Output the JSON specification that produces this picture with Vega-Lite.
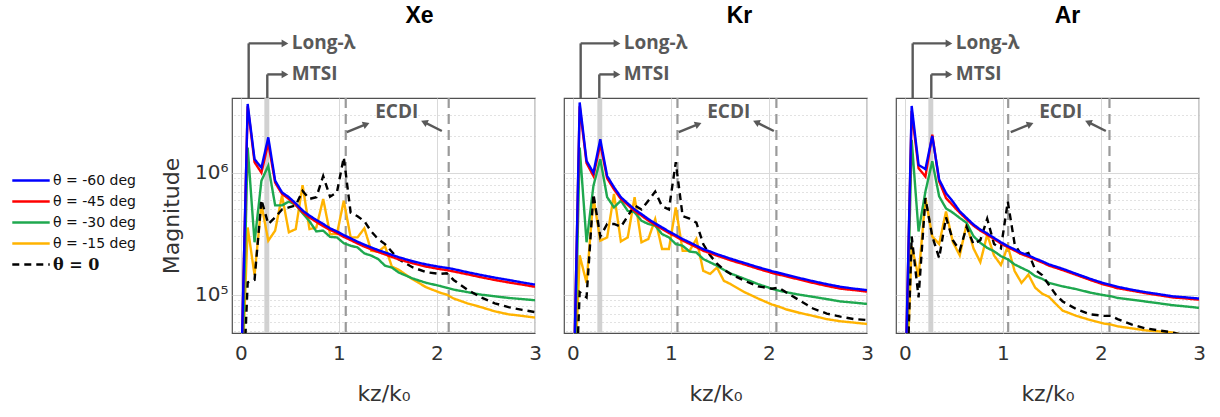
{
  "$schema": "https://vega.github.io/schema/vega-lite/v6.json",
  "padding": {"left": 11, "top": 4, "right": 5, "bottom": 2},
  "background": "white",
  "spacing": 29,
  "bounds": "flush",
  "config": {
    "view": {"stroke": "#505050", "strokeWidth": 1.2},
    "axis": {"labelFont": "DejaVu Sans", "labelFontSize": 20, "labelColor": "#333", "titleFont": "DejaVu Sans", "titleFontSize": 22, "titleFontWeight": "normal", "titleColor": "#333", "domain": false, "ticks": false, "gridColor": "#d9d9d9", "gridWidth": 1},
    "legend": {"orient": "none", "legendX": -221, "legendY": 73, "symbolType": "stroke", "symbolSize": 1400, "symbolStrokeWidth": 2.4, "labelFont": "DejaVu Sans", "labelFontSize": 14, "labelColor": "#111", "clipHeight": 19, "rowPadding": 2, "labelOffset": 2},
    "title": {"font": "Liberation Sans", "fontSize": 23, "fontWeight": "bold", "color": "#000", "anchor": "middle", "offset": 6}
  },
  "datasets": {
    "curves": [
      {"p":"Xe","x":0,"b":17000,"r":17000,"g":8000,"o":11000,"k":6000},
      {"p":"Xe","x":0.07,"b":3660000,"r":3500000,"g":1610000,"o":356000,"k":126000},
      {"p":"Xe","x":0.14,"b":1290000,"r":1220000,"g":269000,"o":145000,"k":132000},
      {"p":"Xe","x":0.21,"b":1100000,"r":1000000,"g":860000,"o":550000,"k":600000},
      {"p":"Xe","x":0.28,"b":1950000,"r":1750000,"g":1140000,"o":277000,"k":380000},
      {"p":"Xe","x":0.35,"b":860000,"r":830000,"g":540000,"o":335000,"k":430000},
      {"p":"Xe","x":0.42,"b":690000,"r":670000,"g":540000,"o":650000,"k":500000},
      {"p":"Xe","x":0.49,"b":630000,"r":610000,"g":580000,"o":325000,"k":520000},
      {"p":"Xe","x":0.56,"b":560000,"r":545000,"g":545000,"o":345000,"k":540000},
      {"p":"Xe","x":0.63,"b":490000,"r":475000,"g":465000,"o":790000,"k":710000},
      {"p":"Xe","x":0.7,"b":445000,"r":430000,"g":400000,"o":345000,"k":610000},
      {"p":"Xe","x":0.77,"b":410000,"r":395000,"g":330000,"o":355000,"k":630000},
      {"p":"Xe","x":0.84,"b":380000,"r":365000,"g":335000,"o":610000,"k":940000},
      {"p":"Xe","x":0.91,"b":350000,"r":340000,"g":298000,"o":314000,"k":635000},
      {"p":"Xe","x":0.98,"b":330000,"r":320000,"g":295000,"o":314000,"k":690000},
      {"p":"Xe","x":1.05,"b":308000,"r":298000,"g":264000,"o":590000,"k":1340000},
      {"p":"Xe","x":1.12,"b":290000,"r":280000,"g":252000,"o":295000,"k":470000},
      {"p":"Xe","x":1.19,"b":272000,"r":263000,"g":244000,"o":295000,"k":440000},
      {"p":"Xe","x":1.26,"b":257000,"r":248000,"g":218000,"o":350000,"k":400000},
      {"p":"Xe","x":1.33,"b":244000,"r":235000,"g":209000,"o":229000,"k":330000},
      {"p":"Xe","x":1.4,"b":232000,"r":224000,"g":196000,"o":225000,"k":286000},
      {"p":"Xe","x":1.47,"b":222000,"r":214000,"g":173000,"o":250000,"k":260000},
      {"p":"Xe","x":1.54,"b":212000,"r":204000,"g":167000,"o":170000,"k":225000},
      {"p":"Xe","x":1.61,"b":203000,"r":195000,"g":152000,"o":160000,"k":195000},
      {"p":"Xe","x":1.75,"b":188000,"r":181000,"g":136000,"o":134000,"k":168000},
      {"p":"Xe","x":1.89,"b":177000,"r":170000,"g":125000,"o":115000,"k":153000},
      {"p":"Xe","x":2.03,"b":169000,"r":162000,"g":118000,"o":104000,"k":148000},
      {"p":"Xe","x":2.1,"b":166000,"r":159000,"g":114000,"o":100000,"k":150000},
      {"p":"Xe","x":2.17,"b":162000,"r":155000,"g":110000,"o":93000,"k":132000},
      {"p":"Xe","x":2.31,"b":153000,"r":147000,"g":105000,"o":85000,"k":110000},
      {"p":"Xe","x":2.45,"b":145000,"r":139000,"g":100000,"o":79000,"k":95000},
      {"p":"Xe","x":2.59,"b":138000,"r":132000,"g":97000,"o":73000,"k":85000},
      {"p":"Xe","x":2.73,"b":132000,"r":126000,"g":94000,"o":69000,"k":79000},
      {"p":"Xe","x":2.87,"b":126000,"r":121000,"g":92000,"o":67000,"k":75000},
      {"p":"Xe","x":3,"b":121000,"r":116000,"g":90000,"o":65000,"k":72000},
      {"p":"Kr","x":0,"b":8000,"r":8000,"g":5000,"o":8000,"k":4000},
      {"p":"Kr","x":0.07,"b":3770000,"r":3500000,"g":1610000,"o":210000,"k":105000},
      {"p":"Kr","x":0.14,"b":1250000,"r":1200000,"g":269000,"o":125000,"k":95000},
      {"p":"Kr","x":0.21,"b":1000000,"r":940000,"g":780000,"o":630000,"k":670000},
      {"p":"Kr","x":0.28,"b":1880000,"r":1720000,"g":1290000,"o":277000,"k":300000},
      {"p":"Kr","x":0.35,"b":940000,"r":900000,"g":630000,"o":295000,"k":380000},
      {"p":"Kr","x":0.42,"b":760000,"r":730000,"g":520000,"o":670000,"k":380000},
      {"p":"Kr","x":0.49,"b":630000,"r":610000,"g":590000,"o":273000,"k":360000},
      {"p":"Kr","x":0.56,"b":560000,"r":545000,"g":487000,"o":295000,"k":440000},
      {"p":"Kr","x":0.63,"b":500000,"r":485000,"g":473000,"o":630000,"k":540000},
      {"p":"Kr","x":0.7,"b":458000,"r":445000,"g":404000,"o":269000,"k":500000},
      {"p":"Kr","x":0.77,"b":417000,"r":405000,"g":380000,"o":286000,"k":590000},
      {"p":"Kr","x":0.84,"b":384000,"r":373000,"g":367000,"o":417000,"k":700000},
      {"p":"Kr","x":0.91,"b":356000,"r":346000,"g":314000,"o":237000,"k":530000},
      {"p":"Kr","x":0.98,"b":330000,"r":320000,"g":295000,"o":237000,"k":500000},
      {"p":"Kr","x":1.05,"b":308000,"r":300000,"g":260000,"o":520000,"k":1220000},
      {"p":"Kr","x":1.12,"b":286000,"r":278000,"g":252000,"o":229000,"k":440000},
      {"p":"Kr","x":1.19,"b":269000,"r":261000,"g":226000,"o":229000,"k":420000},
      {"p":"Kr","x":1.26,"b":252000,"r":245000,"g":222000,"o":286000,"k":390000},
      {"p":"Kr","x":1.33,"b":236000,"r":229000,"g":196000,"o":157000,"k":260000},
      {"p":"Kr","x":1.4,"b":226000,"r":219000,"g":184000,"o":148000,"k":210000},
      {"p":"Kr","x":1.47,"b":215000,"r":209000,"g":173000,"o":167000,"k":180000},
      {"p":"Kr","x":1.54,"b":206000,"r":200000,"g":160000,"o":130000,"k":160000},
      {"p":"Kr","x":1.61,"b":197000,"r":191000,"g":149000,"o":122000,"k":148000},
      {"p":"Kr","x":1.75,"b":182000,"r":177000,"g":135000,"o":105000,"k":130000},
      {"p":"Kr","x":1.89,"b":168000,"r":163000,"g":122000,"o":93000,"k":117000},
      {"p":"Kr","x":2.03,"b":156000,"r":151000,"g":112000,"o":83000,"k":112000},
      {"p":"Kr","x":2.1,"b":151000,"r":146000,"g":108000,"o":80000,"k":114000},
      {"p":"Kr","x":2.17,"b":146000,"r":142000,"g":105000,"o":76000,"k":105000},
      {"p":"Kr","x":2.31,"b":137000,"r":133000,"g":100000,"o":71000,"k":90000},
      {"p":"Kr","x":2.45,"b":129000,"r":125000,"g":96000,"o":67000,"k":77000},
      {"p":"Kr","x":2.59,"b":122000,"r":118000,"g":92000,"o":63000,"k":70000},
      {"p":"Kr","x":2.73,"b":116000,"r":112000,"g":88000,"o":60500,"k":66000},
      {"p":"Kr","x":2.87,"b":112000,"r":109000,"g":86000,"o":59000,"k":63000},
      {"p":"Kr","x":3,"b":109000,"r":106000,"g":84000,"o":57500,"k":62000},
      {"p":"Ar","x":0,"b":12000,"r":12000,"g":8000,"o":8000,"k":5000},
      {"p":"Ar","x":0.07,"b":3530000,"r":3200000,"g":1860000,"o":250000,"k":300000},
      {"p":"Ar","x":0.14,"b":1160000,"r":1090000,"g":330000,"o":140000,"k":95000},
      {"p":"Ar","x":0.21,"b":1070000,"r":930000,"g":700000,"o":620000,"k":620000},
      {"p":"Ar","x":0.28,"b":2000000,"r":2050000,"g":1240000,"o":300000,"k":300000},
      {"p":"Ar","x":0.35,"b":880000,"r":850000,"g":640000,"o":260000,"k":200000},
      {"p":"Ar","x":0.42,"b":680000,"r":620000,"g":510000,"o":480000,"k":430000},
      {"p":"Ar","x":0.49,"b":580000,"r":540000,"g":470000,"o":270000,"k":280000},
      {"p":"Ar","x":0.56,"b":483000,"r":470000,"g":426000,"o":210000,"k":230000},
      {"p":"Ar","x":0.63,"b":426000,"r":415000,"g":388000,"o":380000,"k":360000},
      {"p":"Ar","x":0.7,"b":376000,"r":368000,"g":302000,"o":240000,"k":260000},
      {"p":"Ar","x":0.77,"b":342000,"r":335000,"g":266000,"o":185000,"k":280000},
      {"p":"Ar","x":0.84,"b":317000,"r":310000,"g":242000,"o":310000,"k":420000},
      {"p":"Ar","x":0.91,"b":292000,"r":286000,"g":227000,"o":210000,"k":260000},
      {"p":"Ar","x":0.98,"b":269000,"r":263000,"g":207000,"o":175000,"k":240000},
      {"p":"Ar","x":1.05,"b":250000,"r":245000,"g":195000,"o":250000,"k":580000},
      {"p":"Ar","x":1.12,"b":235000,"r":230000,"g":177000,"o":156000,"k":260000},
      {"p":"Ar","x":1.19,"b":220000,"r":215000,"g":166000,"o":125000,"k":210000},
      {"p":"Ar","x":1.26,"b":210000,"r":205000,"g":156000,"o":146000,"k":220000},
      {"p":"Ar","x":1.33,"b":198000,"r":194000,"g":142000,"o":114000,"k":160000},
      {"p":"Ar","x":1.4,"b":188000,"r":184000,"g":135000,"o":102000,"k":145000},
      {"p":"Ar","x":1.47,"b":177000,"r":173000,"g":125000,"o":96000,"k":120000},
      {"p":"Ar","x":1.54,"b":170000,"r":166000,"g":121000,"o":84000,"k":100000},
      {"p":"Ar","x":1.61,"b":163000,"r":159000,"g":117000,"o":74000,"k":88000},
      {"p":"Ar","x":1.75,"b":148000,"r":145000,"g":111000,"o":67000,"k":76000},
      {"p":"Ar","x":1.89,"b":135000,"r":132000,"g":104000,"o":62000,"k":69000},
      {"p":"Ar","x":2.03,"b":124000,"r":121000,"g":99000,"o":58000,"k":67000},
      {"p":"Ar","x":2.1,"b":120000,"r":117000,"g":97000,"o":57000,"k":67000},
      {"p":"Ar","x":2.17,"b":116000,"r":113000,"g":94000,"o":55000,"k":63000},
      {"p":"Ar","x":2.31,"b":110000,"r":108000,"g":91000,"o":53000,"k":57000},
      {"p":"Ar","x":2.45,"b":105000,"r":103000,"g":88000,"o":51000,"k":53000},
      {"p":"Ar","x":2.59,"b":101000,"r":99000,"g":85000,"o":50000,"k":51000},
      {"p":"Ar","x":2.73,"b":97000,"r":95000,"g":82000,"o":49000,"k":49000},
      {"p":"Ar","x":2.87,"b":95000,"r":93000,"g":80000,"o":46000,"k":46000},
      {"p":"Ar","x":3,"b":93000,"r":91000,"g":78000,"o":43000,"k":44000}
    ],
    "bands": [
      {"p":"Xe","b1":0.24,"b2":0.29,"e1":1.07,"e2":2.12},
      {"p":"Kr","b1":0.25,"b2":0.3,"e1":1.067,"e2":2.076},
      {"p":"Ar","b1":0.24,"b2":0.29,"e1":1.054,"e2":2.087}
    ],
    "callouts": [
      {"vx":0.08,"y0":4100000,"ly":11500000,"ax":0.45},
      {"vx":0.27,"y0":4100000,"ly":6400000,"ax":0.45}
    ],
    "texts": [
      {"tx":0.52,"ty":11500000,"t":"Long-λ"},
      {"tx":0.52,"ty":6400000,"t":"MTSI"},
      {"tx":1.37,"ty":3150000,"t":"ECDI"}
    ],
    "arrows": [
      {"x1":1.08,"y1":2150000,"x2":1.28,"y2":2500000,"ang":338},
      {"x1":2.05,"y1":2200000,"x2":1.87,"y2":2600000,"ang":205}
    ]
  },
  "hconcat": [
    {
      "width": 303, "height": 235,
      "title": {"text": "Xe", "dx": 36},
      "resolve": {"axis": {"x": "independent", "y": "independent"}},
      "layer": [
        {"data": {"name": "bands"}, "transform": [{"filter": "datum.p=='Xe'"}],
         "mark": {"type": "rect", "color": "#cccccc", "opacity": 0.9},
         "encoding": {"x": {"field": "b1", "type": "quantitative", "scale": {"domain": [-0.09, 3], "nice": false, "zero": false}, "axis": null}, "x2": {"field": "b2"}}},
        {"data": {"name": "bands"}, "transform": [{"filter": "datum.p=='Xe'"}, {"fold": ["e1", "e2"], "as": ["which", "ex"]}],
         "mark": {"type": "rule", "color": "#9a9a9a", "strokeWidth": 2.2, "strokeDash": [10, 6]},
         "encoding": {"x": {"field": "ex", "type": "quantitative", "scale": {"domain": [-0.09, 3], "nice": false, "zero": false}, "axis": null}}},
        {"data": {"name": "curves"}, "transform": [{"filter": "datum.p=='Xe'"}, {"fold": ["o", "g", "k", "r", "b"], "as": ["s", "v"]}],
         "mark": {"type": "line", "clip": true, "strokeWidth": 2.4},
         "encoding": {
           "x": {"field": "x", "type": "quantitative", "scale": {"domain": [-0.09, 3], "nice": false, "zero": false}, "axis": {"values": [0, 1, 2, 3], "grid": true, "title": "kz/k₀", "labelPadding": 10, "titlePadding": 20, "labelFlush": false}},
           "y": {"field": "v", "type": "quantitative", "scale": {"type": "log", "domain": [48500, 4100000], "nice": false}, "axis": {"values": [100000, 1000000], "grid": true, "title": "Magnitude", "labelExpr": "datum.value >= 500000 ? '10⁶' : '10⁵'", "labelPadding": 4, "titlePadding": 11}},
           "color": {"field": "s", "type": "nominal", "scale": {"domain": ["b", "r", "g", "o", "k"], "range": ["#0000ff", "#ff0000", "#1fa84f", "#ffb300", "#000000"]},
             "legend": {"title": null, "labelExpr": "datum.label=='b'?'θ = -60 deg':datum.label=='r'?'θ = -45 deg':datum.label=='g'?'θ = -30 deg':datum.label=='o'?'θ = -15 deg':'     θ = 0'", "encode": {"labels": {"update": {"font": {"signal": "datum.value==='k' ? 'DejaVu Serif' : 'DejaVu Sans'"}, "fontWeight": {"signal": "datum.value==='k' ? 'bold' : 'normal'"}, "fontSize": {"signal": "datum.value==='k' ? 16 : 14"}}}}}},
           "strokeDash": {"field": "s", "type": "nominal", "scale": {"domain": ["b", "r", "g", "o", "k"], "range": [[1, 0], [1, 0], [1, 0], [1, 0], [7, 5]]},
             "legend": {"title": null, "labelExpr": "datum.label=='b'?'θ = -60 deg':datum.label=='r'?'θ = -45 deg':datum.label=='g'?'θ = -30 deg':datum.label=='o'?'θ = -15 deg':'     θ = 0'", "encode": {"labels": {"update": {"font": {"signal": "datum.value==='k' ? 'DejaVu Serif' : 'DejaVu Sans'"}, "fontWeight": {"signal": "datum.value==='k' ? 'bold' : 'normal'"}, "fontSize": {"signal": "datum.value==='k' ? 16 : 14"}}}}}}
         }},
        {"data": {"name": "callouts"}, "mark": {"type": "rule", "color": "#595959", "strokeWidth": 2.4},
         "encoding": {"x": {"field": "vx", "type": "quantitative", "scale": {"domain": [-0.09, 3], "nice": false, "zero": false}, "axis": null}, "y": {"field": "y0", "type": "quantitative", "scale": {"type": "log", "domain": [48500, 4100000], "nice": false}, "axis": null}, "y2": {"field": "ly"}}},
        {"data": {"name": "callouts"}, "mark": {"type": "rule", "color": "#595959", "strokeWidth": 2.4},
         "encoding": {"x": {"field": "vx", "type": "quantitative", "scale": {"domain": [-0.09, 3], "nice": false, "zero": false}, "axis": null}, "x2": {"field": "ax"}, "y": {"field": "ly", "type": "quantitative", "scale": {"type": "log", "domain": [48500, 4100000], "nice": false}, "axis": null}}},
        {"data": {"name": "callouts"}, "mark": {"type": "point", "shape": "triangle-right", "filled": true, "color": "#595959", "size": 60, "opacity": 1},
         "encoding": {"x": {"field": "ax", "type": "quantitative", "scale": {"domain": [-0.09, 3], "nice": false, "zero": false}, "axis": null}, "y": {"field": "ly", "type": "quantitative", "scale": {"type": "log", "domain": [48500, 4100000], "nice": false}, "axis": null}}},
        {"data": {"name": "arrows"}, "mark": {"type": "rule", "color": "#595959", "strokeWidth": 2.4},
         "encoding": {"x": {"field": "x1", "type": "quantitative", "scale": {"domain": [-0.09, 3], "nice": false, "zero": false}, "axis": null}, "x2": {"field": "x2"}, "y": {"field": "y1", "type": "quantitative", "scale": {"type": "log", "domain": [48500, 4100000], "nice": false}, "axis": null}, "y2": {"field": "y2"}}},
        {"data": {"name": "arrows"}, "mark": {"type": "point", "shape": "triangle-right", "filled": true, "color": "#595959", "size": 60, "opacity": 1},
         "encoding": {"x": {"field": "x2", "type": "quantitative", "scale": {"domain": [-0.09, 3], "nice": false, "zero": false}, "axis": null}, "y": {"field": "y2", "type": "quantitative", "scale": {"type": "log", "domain": [48500, 4100000], "nice": false}, "axis": {"orient": "right", "values": [50000, 60000, 70000, 80000, 90000, 200000, 300000, 400000, 500000, 600000, 700000, 800000, 900000, 2000000, 3000000], "grid": true, "gridDash": [1, 3], "gridColor": "#c4c4c4", "labels": false, "ticks": false, "domain": false, "title": null}}, "angle": {"field": "ang", "type": "quantitative", "scale": null}}},
        {"data": {"name": "texts"}, "mark": {"type": "text", "align": "left", "baseline": "middle", "font": "Open Sans", "fontWeight": "bold", "fontSize": 19, "color": "#595959"},
         "encoding": {"x": {"field": "tx", "type": "quantitative", "scale": {"domain": [-0.09, 3], "nice": false, "zero": false}, "axis": null}, "y": {"field": "ty", "type": "quantitative", "scale": {"type": "log", "domain": [48500, 4100000], "nice": false}, "axis": null}, "text": {"field": "t"}}}
      ]
    },
    {
      "width": 303, "height": 235,
      "title": {"text": "Kr", "dx": 24},
      "resolve": {"axis": {"x": "independent", "y": "independent"}},
      "layer": [
        {"data": {"name": "bands"}, "transform": [{"filter": "datum.p=='Kr'"}],
         "mark": {"type": "rect", "color": "#cccccc", "opacity": 0.9},
         "encoding": {"x": {"field": "b1", "type": "quantitative", "scale": {"domain": [-0.09, 3], "nice": false, "zero": false}, "axis": null}, "x2": {"field": "b2"}}},
        {"data": {"name": "bands"}, "transform": [{"filter": "datum.p=='Kr'"}, {"fold": ["e1", "e2"], "as": ["which", "ex"]}],
         "mark": {"type": "rule", "color": "#9a9a9a", "strokeWidth": 2.2, "strokeDash": [10, 6]},
         "encoding": {"x": {"field": "ex", "type": "quantitative", "scale": {"domain": [-0.09, 3], "nice": false, "zero": false}, "axis": null}}},
        {"data": {"name": "curves"}, "transform": [{"filter": "datum.p=='Kr'"}, {"fold": ["o", "g", "k", "r", "b"], "as": ["s", "v"]}],
         "mark": {"type": "line", "clip": true, "strokeWidth": 2.4},
         "encoding": {
           "x": {"field": "x", "type": "quantitative", "scale": {"domain": [-0.09, 3], "nice": false, "zero": false}, "axis": {"values": [0, 1, 2, 3], "grid": true, "title": "kz/k₀", "labelPadding": 10, "titlePadding": 20, "labelFlush": false}},
           "y": {"field": "v", "type": "quantitative", "scale": {"type": "log", "domain": [48500, 4100000], "nice": false}, "axis": {"values": [100000, 1000000], "grid": true, "title": null, "labels": false}},
           "color": {"field": "s", "type": "nominal", "scale": {"domain": ["b", "r", "g", "o", "k"], "range": ["#0000ff", "#ff0000", "#1fa84f", "#ffb300", "#000000"]},
             "legend": {"title": null, "labelExpr": "datum.label=='b'?'θ = -60 deg':datum.label=='r'?'θ = -45 deg':datum.label=='g'?'θ = -30 deg':datum.label=='o'?'θ = -15 deg':'     θ = 0'", "encode": {"labels": {"update": {"font": {"signal": "datum.value==='k' ? 'DejaVu Serif' : 'DejaVu Sans'"}, "fontWeight": {"signal": "datum.value==='k' ? 'bold' : 'normal'"}, "fontSize": {"signal": "datum.value==='k' ? 16 : 14"}}}}}},
           "strokeDash": {"field": "s", "type": "nominal", "scale": {"domain": ["b", "r", "g", "o", "k"], "range": [[1, 0], [1, 0], [1, 0], [1, 0], [7, 5]]},
             "legend": {"title": null, "labelExpr": "datum.label=='b'?'θ = -60 deg':datum.label=='r'?'θ = -45 deg':datum.label=='g'?'θ = -30 deg':datum.label=='o'?'θ = -15 deg':'     θ = 0'", "encode": {"labels": {"update": {"font": {"signal": "datum.value==='k' ? 'DejaVu Serif' : 'DejaVu Sans'"}, "fontWeight": {"signal": "datum.value==='k' ? 'bold' : 'normal'"}, "fontSize": {"signal": "datum.value==='k' ? 16 : 14"}}}}}}
         }},
        {"data": {"name": "callouts"}, "mark": {"type": "rule", "color": "#595959", "strokeWidth": 2.4},
         "encoding": {"x": {"field": "vx", "type": "quantitative", "scale": {"domain": [-0.09, 3], "nice": false, "zero": false}, "axis": null}, "y": {"field": "y0", "type": "quantitative", "scale": {"type": "log", "domain": [48500, 4100000], "nice": false}, "axis": null}, "y2": {"field": "ly"}}},
        {"data": {"name": "callouts"}, "mark": {"type": "rule", "color": "#595959", "strokeWidth": 2.4},
         "encoding": {"x": {"field": "vx", "type": "quantitative", "scale": {"domain": [-0.09, 3], "nice": false, "zero": false}, "axis": null}, "x2": {"field": "ax"}, "y": {"field": "ly", "type": "quantitative", "scale": {"type": "log", "domain": [48500, 4100000], "nice": false}, "axis": null}}},
        {"data": {"name": "callouts"}, "mark": {"type": "point", "shape": "triangle-right", "filled": true, "color": "#595959", "size": 60, "opacity": 1},
         "encoding": {"x": {"field": "ax", "type": "quantitative", "scale": {"domain": [-0.09, 3], "nice": false, "zero": false}, "axis": null}, "y": {"field": "ly", "type": "quantitative", "scale": {"type": "log", "domain": [48500, 4100000], "nice": false}, "axis": null}}},
        {"data": {"name": "arrows"}, "mark": {"type": "rule", "color": "#595959", "strokeWidth": 2.4},
         "encoding": {"x": {"field": "x1", "type": "quantitative", "scale": {"domain": [-0.09, 3], "nice": false, "zero": false}, "axis": null}, "x2": {"field": "x2"}, "y": {"field": "y1", "type": "quantitative", "scale": {"type": "log", "domain": [48500, 4100000], "nice": false}, "axis": null}, "y2": {"field": "y2"}}},
        {"data": {"name": "arrows"}, "mark": {"type": "point", "shape": "triangle-right", "filled": true, "color": "#595959", "size": 60, "opacity": 1},
         "encoding": {"x": {"field": "x2", "type": "quantitative", "scale": {"domain": [-0.09, 3], "nice": false, "zero": false}, "axis": null}, "y": {"field": "y2", "type": "quantitative", "scale": {"type": "log", "domain": [48500, 4100000], "nice": false}, "axis": {"orient": "right", "values": [50000, 60000, 70000, 80000, 90000, 200000, 300000, 400000, 500000, 600000, 700000, 800000, 900000, 2000000, 3000000], "grid": true, "gridDash": [1, 3], "gridColor": "#c4c4c4", "labels": false, "ticks": false, "domain": false, "title": null}}, "angle": {"field": "ang", "type": "quantitative", "scale": null}}},
        {"data": {"name": "texts"}, "mark": {"type": "text", "align": "left", "baseline": "middle", "font": "Open Sans", "fontWeight": "bold", "fontSize": 19, "color": "#595959"},
         "encoding": {"x": {"field": "tx", "type": "quantitative", "scale": {"domain": [-0.09, 3], "nice": false, "zero": false}, "axis": null}, "y": {"field": "ty", "type": "quantitative", "scale": {"type": "log", "domain": [48500, 4100000], "nice": false}, "axis": null}, "text": {"field": "t"}}}
      ]
    },
    {
      "width": 303, "height": 235,
      "title": {"text": "Ar", "dx": 20},
      "resolve": {"axis": {"x": "independent", "y": "independent"}},
      "layer": [
        {"data": {"name": "bands"}, "transform": [{"filter": "datum.p=='Ar'"}],
         "mark": {"type": "rect", "color": "#cccccc", "opacity": 0.9},
         "encoding": {"x": {"field": "b1", "type": "quantitative", "scale": {"domain": [-0.09, 3], "nice": false, "zero": false}, "axis": null}, "x2": {"field": "b2"}}},
        {"data": {"name": "bands"}, "transform": [{"filter": "datum.p=='Ar'"}, {"fold": ["e1", "e2"], "as": ["which", "ex"]}],
         "mark": {"type": "rule", "color": "#9a9a9a", "strokeWidth": 2.2, "strokeDash": [10, 6]},
         "encoding": {"x": {"field": "ex", "type": "quantitative", "scale": {"domain": [-0.09, 3], "nice": false, "zero": false}, "axis": null}}},
        {"data": {"name": "curves"}, "transform": [{"filter": "datum.p=='Ar'"}, {"fold": ["o", "g", "k", "r", "b"], "as": ["s", "v"]}],
         "mark": {"type": "line", "clip": true, "strokeWidth": 2.4},
         "encoding": {
           "x": {"field": "x", "type": "quantitative", "scale": {"domain": [-0.09, 3], "nice": false, "zero": false}, "axis": {"values": [0, 1, 2, 3], "grid": true, "title": "kz/k₀", "labelPadding": 10, "titlePadding": 20, "labelFlush": false}},
           "y": {"field": "v", "type": "quantitative", "scale": {"type": "log", "domain": [48500, 4100000], "nice": false}, "axis": {"values": [100000, 1000000], "grid": true, "title": null, "labels": false}},
           "color": {"field": "s", "type": "nominal", "scale": {"domain": ["b", "r", "g", "o", "k"], "range": ["#0000ff", "#ff0000", "#1fa84f", "#ffb300", "#000000"]},
             "legend": {"title": null, "labelExpr": "datum.label=='b'?'θ = -60 deg':datum.label=='r'?'θ = -45 deg':datum.label=='g'?'θ = -30 deg':datum.label=='o'?'θ = -15 deg':'     θ = 0'", "encode": {"labels": {"update": {"font": {"signal": "datum.value==='k' ? 'DejaVu Serif' : 'DejaVu Sans'"}, "fontWeight": {"signal": "datum.value==='k' ? 'bold' : 'normal'"}, "fontSize": {"signal": "datum.value==='k' ? 16 : 14"}}}}}},
           "strokeDash": {"field": "s", "type": "nominal", "scale": {"domain": ["b", "r", "g", "o", "k"], "range": [[1, 0], [1, 0], [1, 0], [1, 0], [7, 5]]},
             "legend": {"title": null, "labelExpr": "datum.label=='b'?'θ = -60 deg':datum.label=='r'?'θ = -45 deg':datum.label=='g'?'θ = -30 deg':datum.label=='o'?'θ = -15 deg':'     θ = 0'", "encode": {"labels": {"update": {"font": {"signal": "datum.value==='k' ? 'DejaVu Serif' : 'DejaVu Sans'"}, "fontWeight": {"signal": "datum.value==='k' ? 'bold' : 'normal'"}, "fontSize": {"signal": "datum.value==='k' ? 16 : 14"}}}}}}
         }},
        {"data": {"name": "callouts"}, "mark": {"type": "rule", "color": "#595959", "strokeWidth": 2.4},
         "encoding": {"x": {"field": "vx", "type": "quantitative", "scale": {"domain": [-0.09, 3], "nice": false, "zero": false}, "axis": null}, "y": {"field": "y0", "type": "quantitative", "scale": {"type": "log", "domain": [48500, 4100000], "nice": false}, "axis": null}, "y2": {"field": "ly"}}},
        {"data": {"name": "callouts"}, "mark": {"type": "rule", "color": "#595959", "strokeWidth": 2.4},
         "encoding": {"x": {"field": "vx", "type": "quantitative", "scale": {"domain": [-0.09, 3], "nice": false, "zero": false}, "axis": null}, "x2": {"field": "ax"}, "y": {"field": "ly", "type": "quantitative", "scale": {"type": "log", "domain": [48500, 4100000], "nice": false}, "axis": null}}},
        {"data": {"name": "callouts"}, "mark": {"type": "point", "shape": "triangle-right", "filled": true, "color": "#595959", "size": 60, "opacity": 1},
         "encoding": {"x": {"field": "ax", "type": "quantitative", "scale": {"domain": [-0.09, 3], "nice": false, "zero": false}, "axis": null}, "y": {"field": "ly", "type": "quantitative", "scale": {"type": "log", "domain": [48500, 4100000], "nice": false}, "axis": null}}},
        {"data": {"name": "arrows"}, "mark": {"type": "rule", "color": "#595959", "strokeWidth": 2.4},
         "encoding": {"x": {"field": "x1", "type": "quantitative", "scale": {"domain": [-0.09, 3], "nice": false, "zero": false}, "axis": null}, "x2": {"field": "x2"}, "y": {"field": "y1", "type": "quantitative", "scale": {"type": "log", "domain": [48500, 4100000], "nice": false}, "axis": null}, "y2": {"field": "y2"}}},
        {"data": {"name": "arrows"}, "mark": {"type": "point", "shape": "triangle-right", "filled": true, "color": "#595959", "size": 60, "opacity": 1},
         "encoding": {"x": {"field": "x2", "type": "quantitative", "scale": {"domain": [-0.09, 3], "nice": false, "zero": false}, "axis": null}, "y": {"field": "y2", "type": "quantitative", "scale": {"type": "log", "domain": [48500, 4100000], "nice": false}, "axis": {"orient": "right", "values": [50000, 60000, 70000, 80000, 90000, 200000, 300000, 400000, 500000, 600000, 700000, 800000, 900000, 2000000, 3000000], "grid": true, "gridDash": [1, 3], "gridColor": "#c4c4c4", "labels": false, "ticks": false, "domain": false, "title": null}}, "angle": {"field": "ang", "type": "quantitative", "scale": null}}},
        {"data": {"name": "texts"}, "mark": {"type": "text", "align": "left", "baseline": "middle", "font": "Open Sans", "fontWeight": "bold", "fontSize": 19, "color": "#595959"},
         "encoding": {"x": {"field": "tx", "type": "quantitative", "scale": {"domain": [-0.09, 3], "nice": false, "zero": false}, "axis": null}, "y": {"field": "ty", "type": "quantitative", "scale": {"type": "log", "domain": [48500, 4100000], "nice": false}, "axis": null}, "text": {"field": "t"}}}
      ]
    }
  ]
}
